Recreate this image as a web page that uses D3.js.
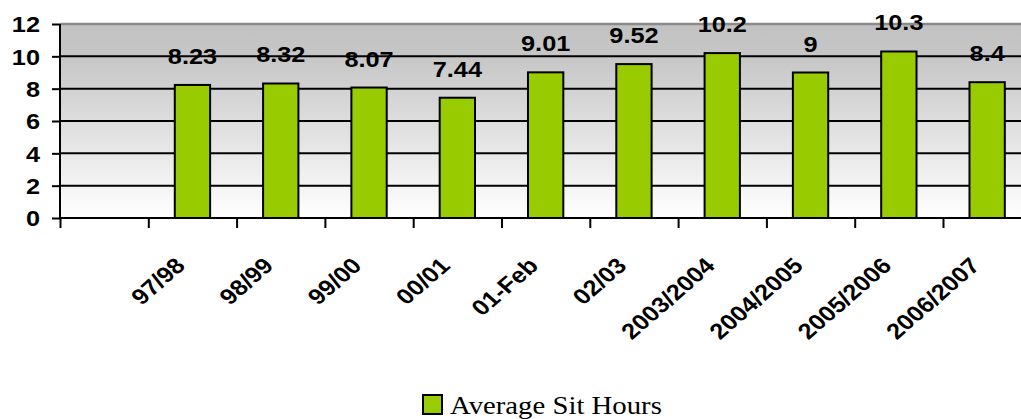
<!DOCTYPE html>
<html>
<head>
<meta charset="utf-8">
<script src="https://cdn.jsdelivr.net/npm/d3@7"></script>
<style>
  html, body { margin: 0; padding: 0; background: #fff; }
  svg { display: block; }
</style>
</head>
<body>
<svg id="chart" width="1021" height="419"></svg>
<script>
const categories = ["", "97/98", "98/99", "99/00", "00/01", "01-Feb", "02/03", "2003/2004", "2004/2005", "2005/2006", "2006/2007"];
const values = [null, 8.23, 8.32, 8.07, 7.44, 9.01, 9.52, 10.2, 9, 10.3, 8.4];
const labels = ["", "8.23", "8.32", "8.07", "7.44", "9.01", "9.52", "10.2", "9", "10.3", "8.4"];
const yTicks = [0, 2, 4, 6, 8, 10, 12];
const seriesName = "Average Sit Hours";

const svg = d3.select("#chart");
const pLeft = 60, pTop = 24, pBottom = 218;
const step = 88.3;
const pRight = pLeft + step * categories.length;
const sx = 1.15; // horizontal stretch of original text

const x = d3.scaleBand().domain(d3.range(categories.length)).range([pLeft, pRight])
  .paddingInner(0.6).paddingOuter(0.3);
const y = d3.scaleLinear().domain([0, 12]).range([pBottom, pTop]);

const defs = svg.append("defs");
const grad = defs.append("linearGradient").attr("id", "bg").attr("x1", 0).attr("y1", 0).attr("x2", 0).attr("y2", 1);
grad.append("stop").attr("offset", "0%").attr("stop-color", "#c2c2c2");
grad.append("stop").attr("offset", "16%").attr("stop-color", "#c6c6c6");
grad.append("stop").attr("offset", "100%").attr("stop-color", "#ffffff");

svg.append("rect").attr("x", pLeft).attr("y", pTop).attr("width", pRight - pLeft).attr("height", pBottom - pTop)
  .attr("fill", "url(#bg)");

// gridlines
svg.append("g").selectAll("line").data(yTicks.filter(d => d > 0 && d < 12)).join("line")
  .attr("x1", pLeft).attr("x2", pRight).attr("y1", d => y(d)).attr("y2", d => y(d))
  .attr("stroke", "#000").attr("stroke-width", 2);

// top border
svg.append("line").attr("x1", pLeft).attr("x2", pRight).attr("y1", y(12)).attr("y2", y(12))
  .attr("stroke", "#8a8a8a").attr("stroke-width", 2.4);

const barData = values.map((v, i) => ({v, i})).filter(d => d.v != null);

// bars
svg.append("g").selectAll("rect").data(barData).join("rect")
  .attr("x", d => x(d.i)).attr("width", x.bandwidth())
  .attr("y", d => y(d.v)).attr("height", d => y(0) - y(d.v))
  .attr("fill", "#99cc00").attr("stroke", "#000").attr("stroke-width", 2);

// data labels
svg.append("g").selectAll("text").data(barData).join("text")
  .attr("transform", d => `translate(${x(d.i) + x.bandwidth() / 2},${y(d.v) - 21}) scale(${sx},1)`)
  .attr("text-anchor", "middle")
  .style("font-family", "Liberation Sans, Arial, sans-serif").style("font-weight", "bold").style("font-size", "22px")
  .attr("fill", "#000")
  .text(d => labels[d.i]);

// y axis
const yAxis = svg.append("g").attr("transform", `translate(${pLeft},0)`)
  .call(d3.axisLeft(y).tickValues(yTicks).tickSize(8).tickPadding(12).tickFormat(d3.format("d")));
yAxis.select(".domain").attr("stroke", "#000").attr("stroke-width", 2).attr("d", `M0,${pTop}V${pBottom}`);
yAxis.selectAll(".tick line").attr("stroke", "#000").attr("stroke-width", 2);
yAxis.selectAll(".tick text")
  .attr("transform", `translate(-20,0) scale(${sx},1)`).attr("x", 0).attr("dy", "0.36em")
  .style("font-family", "Liberation Sans, Arial, sans-serif").style("font-weight", "bold").style("font-size", "22px")
  .attr("fill", "#000").attr("text-anchor", "end");

// x axis: ticks at category boundaries
const boundaries = d3.range(categories.length + 1).map(i => pLeft + i * x.step());
const bscale = d3.scaleLinear().domain([pLeft, pRight]).range([pLeft, pRight]);
const xAxis = svg.append("g").attr("transform", `translate(0,${pBottom})`)
  .call(d3.axisBottom(bscale).tickValues(boundaries).tickSize(10).tickFormat(""));
xAxis.select(".domain").attr("stroke", "#000").attr("stroke-width", 2).attr("d", `M${pLeft},0H${pRight}`);
xAxis.selectAll(".tick line").attr("stroke", "#000").attr("stroke-width", 2);

// category labels
svg.append("g").selectAll("text").data(categories.map((c, i) => ({c, i})).filter(d => d.c)).join("text")
  .attr("transform", d => `translate(${x(d.i) + x.bandwidth() / 2 - 6},${pBottom + 49}) scale(${sx},1) rotate(-45)`)
  .attr("text-anchor", "end")
  .style("font-family", "Liberation Sans, Arial, sans-serif").style("font-weight", "bold").style("font-size", "22px")
  .attr("fill", "#000")
  .text(d => d.c);

// legend
const lg = svg.append("g").attr("transform", "translate(423,395)");
lg.append("rect").attr("x", 0).attr("y", 0).attr("width", 19).attr("height", 19)
  .attr("fill", "#99cc00").attr("stroke", "#000").attr("stroke-width", 2);
lg.append("text").attr("transform", `translate(27,19) scale(${sx},1)`)
  .style("font-family", "Liberation Serif, Times New Roman, serif").style("font-size", "25px")
  .attr("fill", "#000").text(seriesName);
</script>
</body>
</html>
